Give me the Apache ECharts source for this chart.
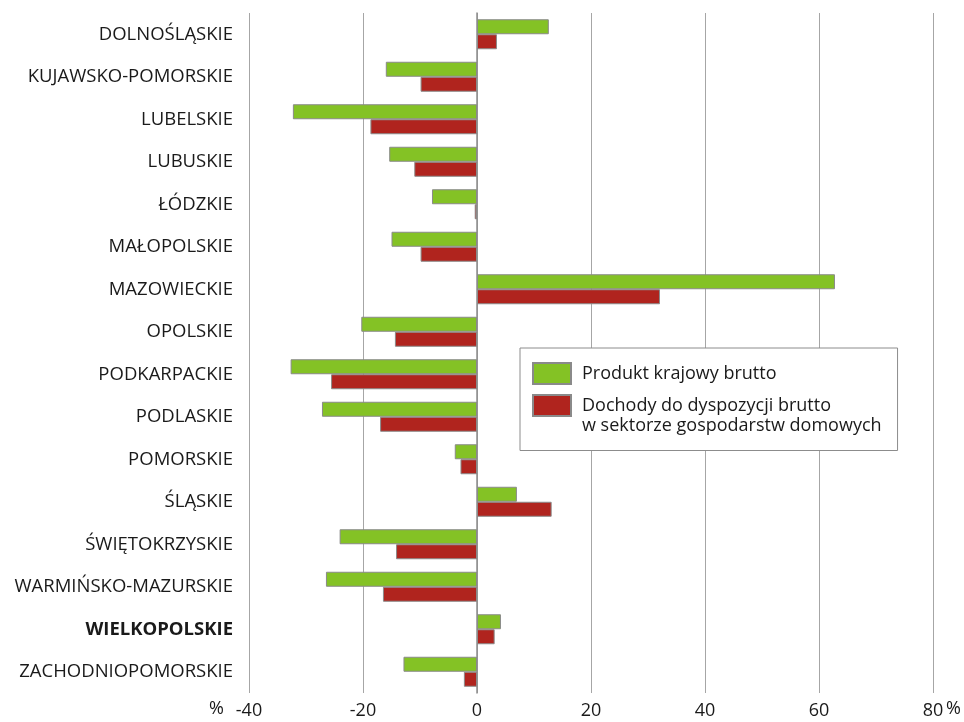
<!DOCTYPE html>
<html><head><meta charset="utf-8">
<script src="https://cdn.jsdelivr.net/npm/echarts@6/dist/echarts.min.js"></script>
<style>html,body{margin:0;padding:0;background:#fff}#c{width:964px;height:722px}</style>
</head><body><div id="c"></div>
<script>
const categories = ['DOLNOŚLĄSKIE','KUJAWSKO-POMORSKIE','LUBELSKIE','LUBUSKIE','ŁÓDZKIE','MAŁOPOLSKIE','MAZOWIECKIE','OPOLSKIE','PODKARPACKIE','PODLASKIE','POMORSKIE','ŚLĄSKIE','ŚWIĘTOKRZYSKIE','WARMIŃSKO-MAZURSKIE','WIELKOPOLSKIE','ZACHODNIOPOMORSKIE'];
const pkb = [12.6,-16.0,-32.3,-15.4,-7.9,-15.0,62.8,-20.3,-32.7,-27.2,-3.9,7.0,-24.1,-26.5,4.2,-12.9];
const dochody = [3.5,-9.9,-18.7,-11.0,-0.4,-9.9,32.1,-14.4,-25.6,-17.0,-2.9,13.1,-14.2,-16.5,3.1,-2.3];
const seriesNames = ['Produkt krajowy brutto','Dochody do dyspozycji brutto\nw sektorze gospodarstw domowych'];
const xTicks = {min:-40, max:80, interval:20};
const boldCategory = 'WIELKOPOLSKIE';

const font = '"Open Sans", "Noto Sans", sans-serif';
const chart = echarts.init(document.getElementById('c'));
chart.setOption({
  animation:false,
  textStyle:{fontFamily:font},
  grid:{left:249,right:31,top:13,bottom:29,containLabel:false},
  legend:{
    orient:'vertical', left:520, top:348,
    padding:[14,16,15,12], itemGap:-9.5, itemWidth:38, itemHeight:21,
    icon:'rect',
    borderColor:'#8c8c8c', borderWidth:1, backgroundColor:'#fff',
    textStyle:{fontFamily:font,fontSize:18,color:'#1a1a1a',lineHeight:20,padding:[0,0,0,6]},
    formatter:name=> name===seriesNames[1] ? '\n'+name : name,
    data:seriesNames
  },
  xAxis:{
    type:'value', min:xTicks.min, max:xTicks.max, interval:xTicks.interval,
    axisLine:{show:false}, axisTick:{show:false},
    splitLine:{lineStyle:{color:'#a6a6a6',width:1}},
    axisLabel:{fontFamily:font,fontSize:18,color:'#1a1a1a',margin:9}
  },
  yAxis:{
    type:'category', data:categories, inverse:true,
    axisLine:{onZero:true,lineStyle:{color:'#8c8c8c',width:1.5}},
    axisTick:{show:false},
    axisLabel:{
      fontFamily:font,fontSize:18.5,color:'#1a1a1a',margin:16,
      formatter:v=> v===boldCategory ? '{b|'+v+'}' : v,
      rich:{b:{fontWeight:'bold',fontSize:18.5,fontFamily:font,color:'#1a1a1a'}}
    },
    position:'left'
  },
  graphic:[
    {type:'text',left:209,top:700,style:{text:'%',font:'18px '+font,fill:'#1a1a1a'}},
    {type:'text',left:946,top:700,style:{text:'%',font:'18px '+font,fill:'#1a1a1a'}}
  ],
  series:[
    {name:seriesNames[0],type:'bar',data:pkb,barWidth:15,barGap:'0%',
     itemStyle:{color:'#84c225',borderColor:'#8a8a8a',borderWidth:1}},
    {name:seriesNames[1],type:'bar',data:dochody,barWidth:15,barGap:'0%',
     itemStyle:{color:'#b0241e',borderColor:'#8a8a8a',borderWidth:1}}
  ]
});
</script></body></html>
